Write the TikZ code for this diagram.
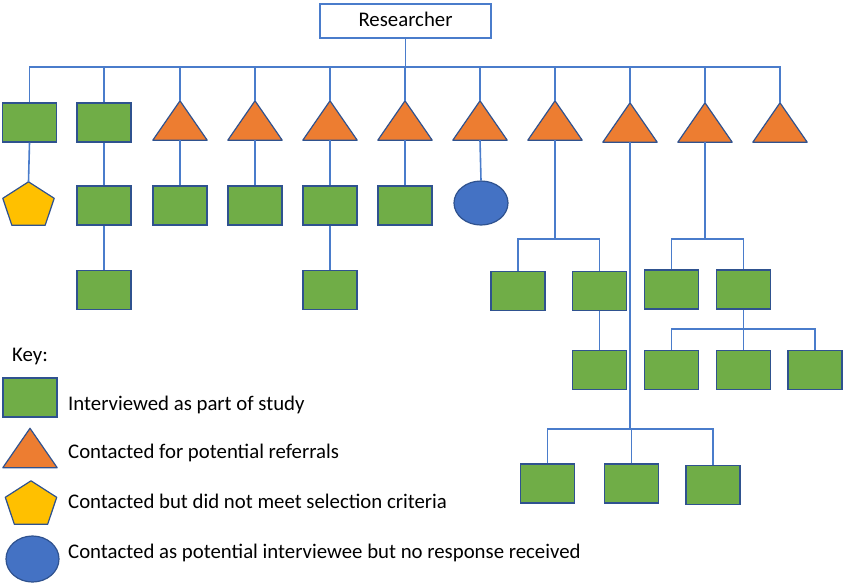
\documentclass[tikz,border=0pt]{standalone}
\usepackage{fontspec}
\setmainfont{Carlito}
\usetikzlibrary{calc,shapes.geometric}

\definecolor{sqgreen}{HTML}{70AD47}
\definecolor{triorange}{HTML}{ED7D31}
\definecolor{pentgold}{HTML}{FFC000}
\definecolor{ovalblue}{HTML}{4472C4}
\definecolor{edgeblue}{HTML}{2F528F}
\definecolor{linkblue}{HTML}{4A7CCB}

\tikzset{
  shapeline/.style={draw=edgeblue, line width=1.2pt},
  sq/.style={shapeline, fill=sqgreen, rectangle, minimum width=54pt, minimum height=39pt, inner sep=0pt},
  slot/.style={rectangle, minimum width=54pt, minimum height=39pt, inner sep=0pt},
  pslot/.style={rectangle, minimum width=51pt, minimum height=43pt, inner sep=0pt},
  oval/.style={shapeline, fill=ovalblue, ellipse, minimum width=54pt, minimum height=44pt, inner sep=0pt},
  link/.style={draw=linkblue, line width=1.6pt},
  keytext/.style={anchor=base west, inner sep=0pt, font=\fontsize{20.8}{25}\selectfont},
}

% triangle: an empty slot node with the outline drawn on its anchors
\newcommand\trinode[2]{%
  \node[slot] (#1) at (#2) {};
  \draw[shapeline, fill=triorange, line join=round] (#1.south west) -- (#1.north) -- (#1.south east) -- cycle;}

% pentagon drawn on the anchors of an empty slot node
\newcommand\pentnode[2]{%
  \node[pslot] (#1) at (#2) {};
  \draw[shapeline, fill=pentgold, line join=round] (#1.north)
    -- ($(#1.north east)!0.38!(#1.south east)$)
    -- ($(#1.south)!0.65!(#1.south east)$)
    -- ($(#1.south)!0.65!(#1.south west)$)
    -- ($(#1.north west)!0.38!(#1.south west)$) -- cycle;}

\begin{document}
\begin{tikzpicture}[x=1pt,y=-1pt]
\useasboundingbox (0,0) rectangle (843,582);

% top node
\node[draw=linkblue, line width=1.6pt, minimum width=171pt, minimum height=34pt, inner sep=0pt,
      font=\fontsize{20.8}{25}\selectfont, text height=14pt, text depth=4pt] (res) at (405.5,21) {Researcher};

% first tier
\node[sq] (a1) at (29.5,122.5) {};
\node[sq] (a2) at (104,122.5) {};
\trinode{b1}{180,120.5}
\trinode{b2}{255,120.5}
\trinode{b3}{330,120.5}
\trinode{b4}{405,120.5}
\trinode{b5}{480,120.5}
\trinode{b6}{555,120.5}
\trinode{b7}{630,122.5}
\trinode{b8}{705,122.5}
\trinode{b9}{780,122.5}

\coordinate (bus) at (0,67);
\draw[link] (a1.north) -- (a1.north |- bus) -- (b9.north |- bus) -- (b9.north);
\foreach \n in {a2,b1,b2,b3,b4,b5,b6,b7,b8}
  \draw[link] (\n.north) -- (\n.north |- bus);
\draw[link] (res.south) -- (res.south |- bus);

% second tier
\pentnode{p1}{28.5,203.5}
\node[sq] (c2) at (104,205.5) {};
\node[sq] (c3) at (180,205.5) {};
\node[sq] (c4) at (255,205.5) {};
\node[sq] (c5) at (330,205.5) {};
\node[sq] (c6) at (405,205.5) {};
\node[oval] (e1) at (481,203) {};

\draw[link] (a1.south) -- (p1.north);
\draw[link] (a2.south) -- (c2.north);
\draw[link] (b1.south) -- (c3.north);
\draw[link] (b2.south) -- (c4.north);
\draw[link] (b3.south) -- (c5.north);
\draw[link] (b4.south) -- (c6.north);
\draw[link] (b5.south) -- (e1.north);

% third tier, left
\node[sq] (d2) at (104,290) {};
\node[sq] (d5) at (330,290) {};
\draw[link] (c2.south) -- (d2.north);
\draw[link] (c5.south) -- (d5.north);

% referrals from the sixth contact
\node[sq] (f1) at (518,291) {};
\node[sq] (f2) at (599.5,291) {};
\node[sq] (f3) at (599.5,370) {};
\coordinate (busf) at (0,239);
\draw[link] (b6.south) -- (b6.south |- busf);
\draw[link] (f1.north) -- (f1.north |- busf) -- (f2.north |- busf) -- (f2.north);
\draw[link] (f2.south) -- (f3.north);

% referrals from the seventh contact
\node[sq] (g1) at (547.5,483.5) {};
\node[sq] (g2) at (631.5,483.5) {};
\node[sq] (g3) at (713,485) {};
\coordinate (busg) at (0,429);
\draw[link] (b7.south) -- (b7.south |- busg);
\draw[link] (g1.north) -- (g1.north |- busg) -- (g3.north |- busg) -- (g3.north);
\draw[link] (g2.north) -- (g2.north |- busg);

% referrals from the eighth contact
\node[sq] (h1) at (671.5,289.5) {};
\node[sq] (h2) at (743.5,289.5) {};
\node[sq] (h3) at (671.5,370) {};
\node[sq] (h4) at (743.5,370) {};
\node[sq] (h5) at (815,370) {};
\coordinate (bush) at (0,239);
\coordinate (bushb) at (0,329);
\draw[link] (b8.south) -- (b8.south |- bush);
\draw[link] (h1.north) -- (h1.north |- bush) -- (h2.north |- bush) -- (h2.north);
\draw[link] (h2.south) -- (h2.south |- bushb);
\draw[link] (h3.north) -- (h3.north |- bushb) -- (h5.north |- bushb) -- (h5.north);
\draw[link] (h4.north) -- (h4.north |- bushb);

% key
\node[keytext] (keyhead) at (12,361) {Key:};
\node[sq] (k1) at (30,397.5) {};
\trinode{k2}{30,448}
\pentnode{k3}{31,502.5}
\node[oval, minimum width=53pt, minimum height=46pt] (k4) at (32.5,559) {};
\node[keytext] (kt1) at (68,410) {Interviewed as part of study};
\node[keytext] (kt2) at (68,458) {Contacted for potential referrals};
\node[keytext] (kt3) at (68,508) {Contacted but did not meet selection criteria};
\node[keytext] (kt4) at (68,558) {Contacted as potential interviewee but no response received};
\end{tikzpicture}
\end{document}
